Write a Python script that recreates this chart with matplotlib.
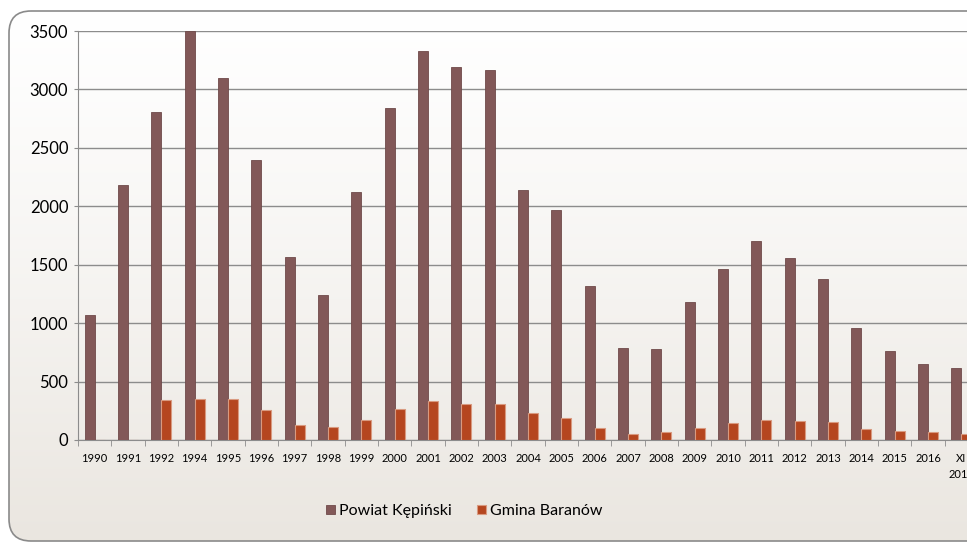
import matplotlib.pyplot as plt
import numpy as np
from matplotlib.patches import FancyBboxPatch

# Données
lata = ['1990', '1991', '1992', '1994', '1995', '1996', '1997', '1998', '1999',
        '2000', '2001', '2002', '2003', '2004', '2005', '2006', '2007', '2008',
        '2009', '2010', '2011', '2012', '2013', '2014', '2015', '2016', 'XI\n2017']
powiat = [1070, 2180, 2810, 3500, 3100, 2400, 1570, 1240, 2120,
          2840, 3330, 3190, 3170, 2140, 1970, 1320, 790, 775,
          1180, 1460, 1700, 1560, 1380, 960, 760, 650, 615]
gmina = [0, 0, 345, 350, 350, 260, 130, 110, 170,
         265, 330, 310, 310, 235, 185, 100, 55, 65,
         105, 145, 175, 165, 155, 90, 75, 65, 55]
y_ticks = [0, 500, 1000, 1500, 2000, 2500, 3000, 3500]

plt.rcParams['font.family'] = ['Lato', 'DejaVu Sans']

W, H = 967, 543
fig = plt.figure(figsize=(W / 100, H / 100), dpi=100)

# Fond : cadre arrondi avec dégradé vertical
bg = fig.add_axes([0, 0, 1, 1], zorder=0)
bg.set_xlim(0, W)
bg.set_ylim(H, 0)
bg.axis('off')
grad = np.linspace(0, 1, 256).reshape(-1, 1)
top_c = np.array([1.0, 1.0, 1.0])
bot_c = np.array([0.918, 0.902, 0.878])
img = top_c + (bot_c - top_c) * grad[..., None] ** 1.2
frame = FancyBboxPatch((9, 11), W + 40, H - 13, boxstyle='round,pad=0,rounding_size=22',
                       facecolor='none', edgecolor='#8a8a8a', lw=1.2, zorder=3)
bg.add_patch(frame)
im = bg.imshow(img, extent=(9, W + 49, H - 2, 11), aspect='auto', zorder=1)
im.set_clip_path(frame)

# Axe principal (coupé à droite comme dans l'original)
ax = fig.add_axes([78 / W, 1 - 440 / H, 900 / W, 409 / H], zorder=1)
ax.patch.set_alpha(0)

x = np.arange(len(lata))
w = 0.3
ax.bar(x - w / 2, powiat, width=w, color='#825858', edgecolor='#6f4a4a', lw=0.6,
       zorder=3, label='Powiat Kępiński')
ax.bar(x + w / 2, gmina, width=w, color='#b5461f', edgecolor='#d99a80', lw=0.8,
       zorder=3, label='Gmina Baranów')

ax.set_xlim(-0.5, len(lata) - 0.5)
ax.set_ylim(0, 3500)
ax.set_yticks(y_ticks)
ax.set_yticklabels([str(v) for v in y_ticks], fontsize=12)
ax.yaxis.grid(True, color='#8c8c8c', lw=1)
ax.set_axisbelow(True)

ax.set_xticks(x)
ax.set_xticklabels(lata, fontsize=8, linespacing=1.6)
ax.set_xticks(np.arange(-0.5, len(lata), 1), minor=True)
ax.tick_params(axis='x', which='major', length=0, pad=9)
ax.tick_params(axis='x', which='minor', length=4, color='#8c8c8c', direction='out')
ax.tick_params(axis='y', length=3, color='#8c8c8c', pad=4)

for s in ['top', 'right']:
    ax.spines[s].set_visible(False)
for s in ['left', 'bottom']:
    ax.spines[s].set_color('#8c8c8c')

fig.legend(loc='center', bbox_to_anchor=(464 / W, 1 - 511 / H), ncol=2, frameon=False,
           fontsize=11.5, handlelength=0.55, handleheight=0.55, handletextpad=0.25,
           columnspacing=1.6)

fig.savefig('out.png', dpi=100)
